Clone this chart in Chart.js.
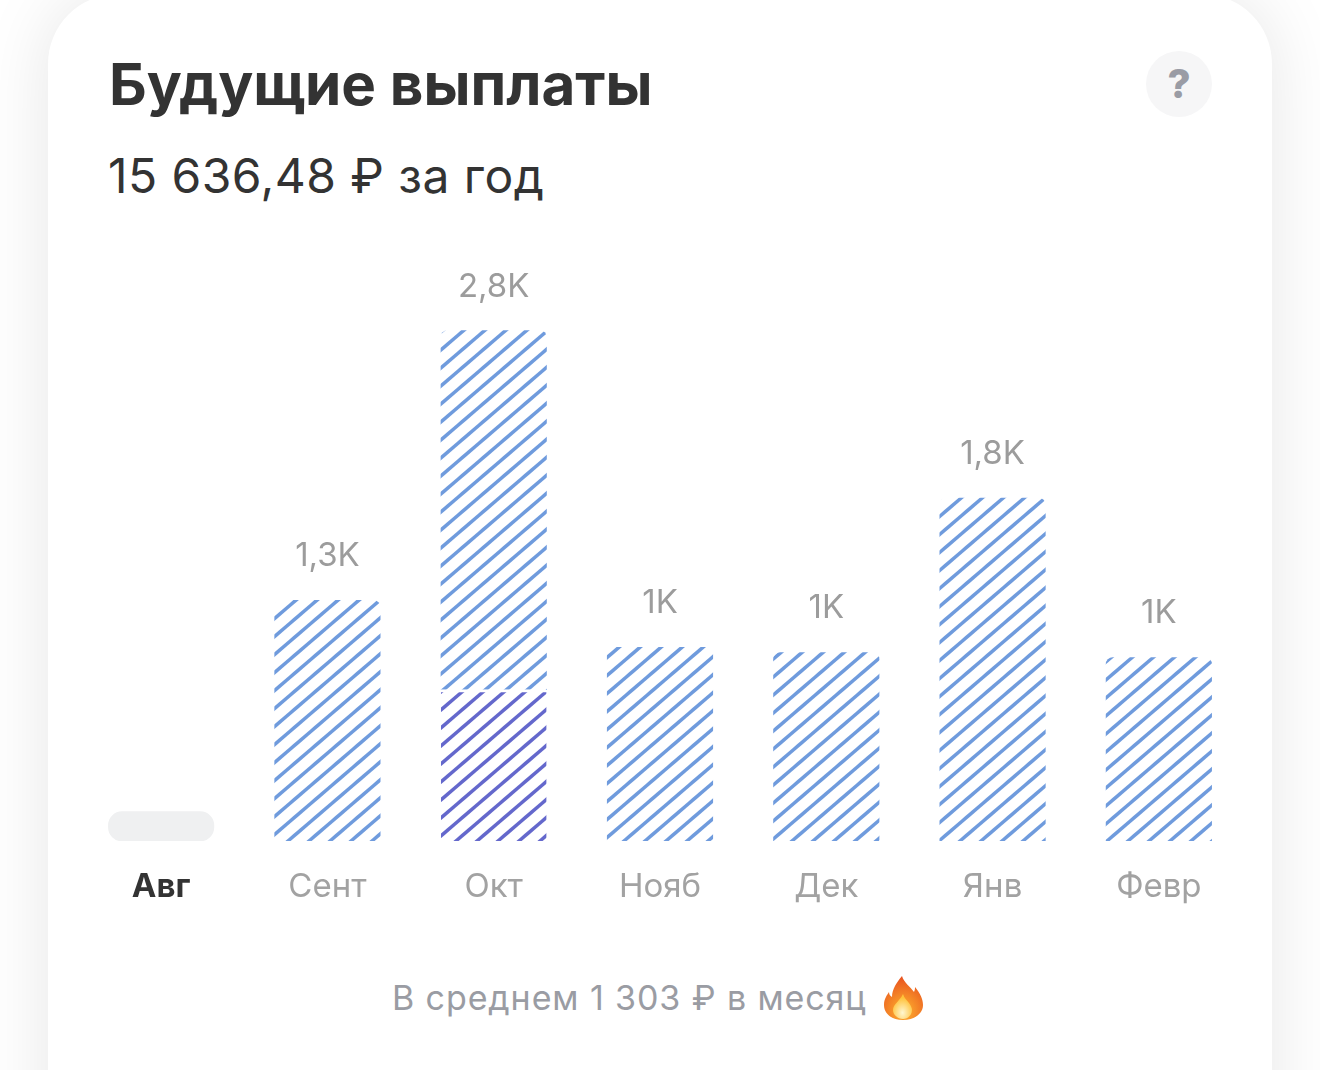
<!DOCTYPE html>
<html lang="ru">
<head>
<meta charset="utf-8">
<title>Будущие выплаты</title>
<script src="https://cdn.jsdelivr.net/npm/chart.js@4"></script>
<style>
  html,body{margin:0;padding:0;background:#fff;}
  body{width:1320px;height:1070px;overflow:hidden;position:relative;font-family:Inter,Roboto,sans-serif;}
  .card{position:absolute;left:48px;top:-6px;width:1224px;height:1200px;background:#fff;border-radius:70px;box-shadow:0 0 70px rgba(0,0,0,.1);}
  .t{position:absolute;white-space:nowrap;line-height:1;}
  #title{left:109px;top:55px;font-size:58.3px;font-weight:700;color:#333;}
  #sub{left:108px;top:152px;font-size:48px;font-weight:400;color:#333;letter-spacing:.45px;}
  #help{position:absolute;left:1146px;top:51px;width:66px;height:66px;border-radius:50%;background:#f6f6f7;color:#9a9ca5;font-size:40px;font-weight:800;line-height:66px;text-align:center;}
  #avg{left:392px;top:981px;font-size:34px;color:#9a9ca3;letter-spacing:.9px;}
  #fire{position:absolute;left:882px;top:975px;}
  #wrap{position:absolute;left:78px;top:240px;width:1164px;height:681px;}
</style>
</head>
<body>
<div class="card"></div>
<div class="t" id="title">Будущие выплаты</div>
<div class="t" id="sub">15 636,48 ₽ за год</div>
<div id="help">?</div>
<div id="wrap"><canvas id="c"></canvas></div>
<div class="t" id="avg">В среднем 1 303 ₽ в месяц</div>
<svg id="fire" width="42" height="46" viewBox="0 0 42 46">
  <defs>
    <radialGradient id="fo" cx=".5" cy=".8" r=".8"><stop offset="0" stop-color="#ffb52e"/><stop offset="1" stop-color="#e8501f"/></radialGradient>
    <radialGradient id="fi" cx=".5" cy=".75" r=".6"><stop offset="0" stop-color="#fff7d0"/><stop offset="1" stop-color="#ffc23a"/></radialGradient>
  </defs>
  <path d="M20 1c2 7 8 10 12 16 1-2 1-4 1-5 5 6 8 12 8 18 0 9-9 15-20 15S2 39 2 30c0-6 3-10 5-13 0 2 1 4 3 5C10 14 15 7 20 1z" fill="url(#fo)"/>
  <path d="M21 19c1 4 4 6 6 9 2 3 3 5 3 7 0 5-4 9-9 9s-10-4-10-9c0-6 7-9 10-16z" fill="url(#fi)"/>
</svg>
<script>
const months=['Авг','Сент','Окт','Нояб','Дек','Янв','Февр'];
const placeholder=[160,null,null,null,null,null,null];
const confirmed=[null,null,825,null,null,null,null];
const expected=[null,1311,1956,1055,1027,1869,1000];
const valueLabels=['','1,3K','2,8K','1K','1K','1,8K','1K'];
const totals=[0,1311,2781,1055,1027,1869,1000];
const currentMonth='Авг';

const stripeW=21, stripeH=18, stripeShift=7;
function stripes(color){
  const tile=document.createElement('canvas');
  tile.width=stripeW; tile.height=stripeH;
  const g=tile.getContext('2d');
  g.fillStyle='#fff'; g.fillRect(0,0,stripeW,stripeH);
  g.strokeStyle=color; g.lineWidth=3.6;
  g.translate(0,stripeShift);
  // lines run well past the tile so its edges join up
  for(let i=-4;i<=4;i++){
    g.beginPath();
    g.moveTo((i-2)*stripeW,3*stripeH);
    g.lineTo((i+3)*stripeW,-2*stripeH);
    g.stroke();
  }
  return g.createPattern(tile,'repeat');
}
const ctx=document.getElementById('c').getContext('2d');

// value captions above the bars
const barLabels={
  id:'barLabels',
  afterDatasetsDraw(chart){
    const {ctx:c,scales:{x,y}}=chart;
    c.save();
    c.font='400 33px Inter, Roboto, sans-serif';
    c.fillStyle='#9c9c9c';
    c.textAlign='center';
    c.textBaseline='middle';
    months.forEach((m,i)=>{
      if(valueLabels[i]) c.fillText(valueLabels[i],x.getPixelForValue(i),y.getPixelForValue(totals[i])-44);
    });
    c.restore();
  }
};

new Chart(ctx,{
  type:'bar',
  data:{
    labels:months,
    datasets:[
      {label:'placeholder',data:placeholder,backgroundColor:'#eff0f1',borderRadius:14,borderSkipped:false},
      {label:'confirmed',data:confirmed,backgroundColor:stripes('#6468cc'),borderWidth:{top:3},borderColor:'#fff',borderSkipped:'bottom'},
      {label:'expected',data:expected,backgroundColor:stripes('#6f9bdd'),borderRadius:{topLeft:7,topRight:7,bottomLeft:0,bottomRight:0},borderSkipped:false}
    ]
  },
  options:{
    responsive:true,maintainAspectRatio:false,animation:false,
    layout:{padding:0},
    plugins:{legend:{display:false},tooltip:{enabled:false}},
    datasets:{bar:{barThickness:105.5}},
    scales:{
      x:{
        stacked:true,
        border:{display:false},grid:{display:false},
        afterFit(s){s.height=80;},
        ticks:{
          padding:18,maxRotation:0,autoSkip:false,
          color:t=>months[t.index]===currentMonth?'#333333':'#a2a2a2',
          font:t=>months[t.index]===currentMonth
            ?{family:'Inter, Roboto, sans-serif',size:33,weight:'700'}
            :{family:'Inter, Roboto, sans-serif',size:33,weight:'400'}
        }
      },
      y:{stacked:true,display:false,min:0,max:3275}
    }
  },
  plugins:[barLabels]
});
</script>
</body>
</html>
